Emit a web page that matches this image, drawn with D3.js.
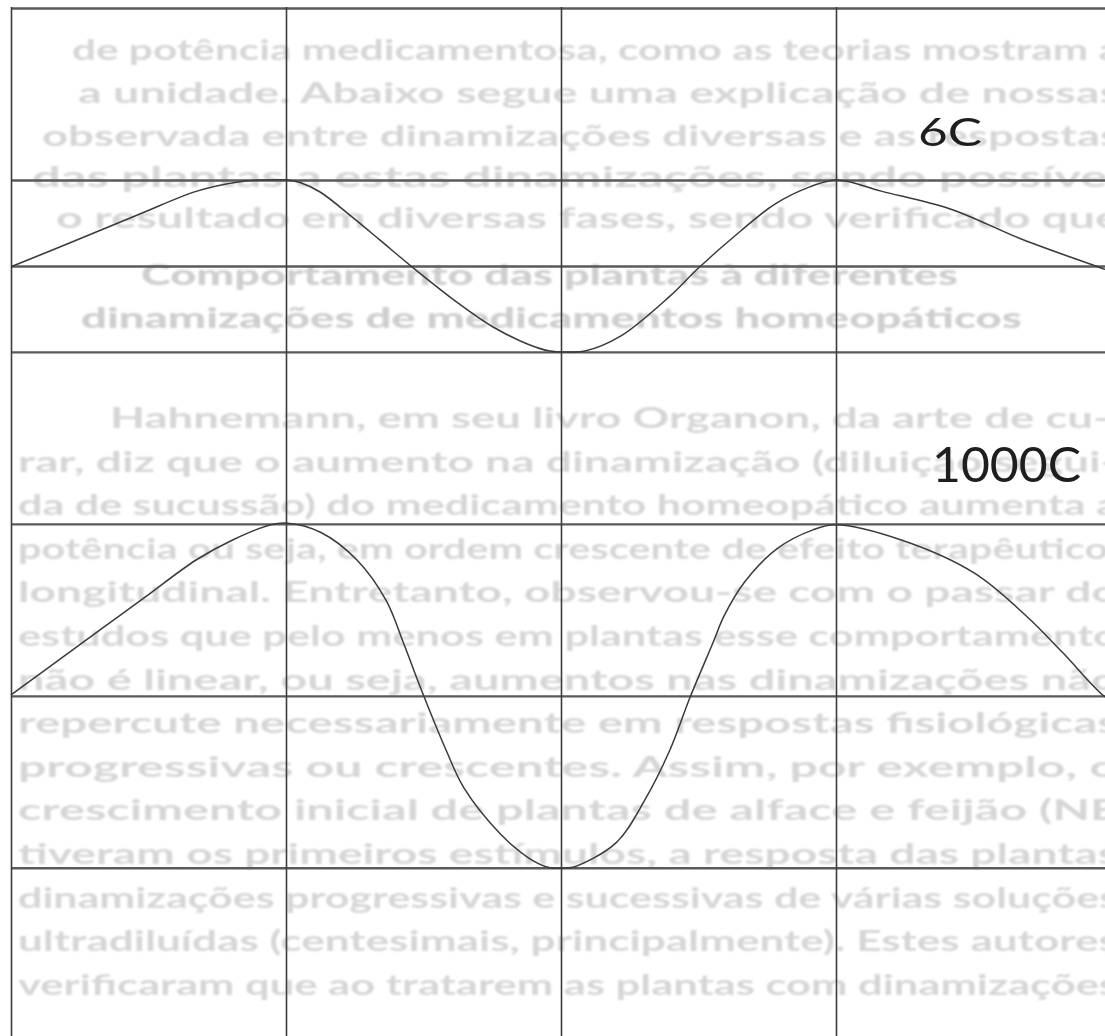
<!DOCTYPE html>
<html>
<head>
<meta charset="utf-8">
<script src="https://cdn.jsdelivr.net/npm/d3@7"></script>
<style>
  html, body { margin: 0; padding: 0; background: #ffffff; overflow: hidden; }
  svg { display: block; }
</style>
</head>
<body>
<svg id="chart" width="1105" height="1036"></svg>
<script>
// ---------------- DATA ----------------
// grid (column units and row units)
const columns = [0, 1, 2, 3, 4];
const rows = [-2, 0, 2, 4, 6, 7, 8, 10];

// series names
const series = ["6C", "1000C"];

// 6C curve (baseline at row 7, amplitude 1)
const x6C = [0, 0.215, 0.473, 0.676, 0.833, 0.924, 1.004, 1.051, 1.124, 1.240, 1.342, 1.458,
             1.625, 1.753, 1.880, 1.960, 2.022, 2.087, 2.215, 2.393, 2.498, 2.651, 2.778,
             2.905, 3.004, 3.164, 3.418, 3.676, 3.978, 4.02];
const y6C = [6.99, 7.27, 7.61, 7.87, 7.98, 8.00, 8.00, 7.97, 7.86, 7.57, 7.30, 6.99,
             6.57, 6.29, 6.09, 6.01, 6.00, 6.01, 6.18, 6.64, 6.97, 7.40, 7.72,
             7.92, 8.00, 7.87, 7.66, 7.31, 6.96, 6.91];

// 1000C curve (baseline at row 2, amplitude 2)
const x1000C = [0, 0.218, 0.480, 0.673, 0.804, 0.945, 1.000, 1.127, 1.258, 1.364, 1.429,
                1.491, 1.582, 1.647, 1.778, 1.884, 1.960, 2.015, 2.047, 2.200, 2.305,
                2.396, 2.469, 2.553, 2.593, 2.669, 2.785, 2.916, 3.000, 3.240, 3.502,
                3.695, 3.825, 3.978, 4.02];
const y1000C = [2.01, 2.52, 3.13, 3.58, 3.81, 3.99, 4.01, 3.90, 3.58, 3.11, 2.60,
                2.08, 1.37, 0.93, 0.40, 0.11, 0.00, 0.00, 0.01, 0.29, 0.79,
                1.37, 1.98, 2.62, 2.93, 3.33, 3.71, 3.93, 3.99, 3.81, 3.43,
                2.92, 2.50, 1.99, 1.93];

// faint text of the printed page behind the figure
const pageTextTop = [
  "de potência medicamentosa, como as teorias mostram a",
  "a unidade. Abaixo segue uma explicação de nossas",
  "observada entre dinamizações diversas e as respostas",
  "das plantas a estas dinamizações, sendo possível",
  "o resultado em diversas fases, sendo verificado que"
];
const pageHeading = [
  "Comportamento das plantas à diferentes",
  "dinamizações de medicamentos homeopáticos"
];
const pageTextBody = [
  "Hahnemann, em seu livro Organon, da arte de cu-",
  "rar, diz que o aumento na dinamização (diluição segui-",
  "da de sucussão) do medicamento homeopático aumenta a",
  "potência ou seja, em ordem crescente de efeito terapêutico,",
  "longitudinal. Entretanto, observou-se com o passar do",
  "estudos que pelo menos em plantas esse comportamento",
  "não é linear, ou seja, aumentos nas dinamizações não",
  "repercute necessariamente em respostas fisiológicas",
  "progressivas ou crescentes. Assim, por exemplo, o",
  "crescimento inicial de plantas de alface e feijão (NE",
  "tiveram os primeiros estímulos, a resposta das plantas",
  "dinamizações progressivas e sucessivas de várias soluções",
  "ultradiluídas (centesimais, principalmente). Estes autores",
  "verificaram que ao tratarem as plantas com dinamizações"
];

// ---------------- LAYOUT ----------------
const W = 1105, H = 1036;
const svg = d3.select("#chart");

const x = d3.scaleLinear().domain([0, 4]).range([11, 1111]);
const y = d3.scaleLinear().domain([0, 10]).range([867.8, 8]);

// blur filters to mimic the scan
const defs = svg.append("defs");
defs.append("filter").attr("id", "soft")
  .append("feGaussianBlur").attr("stdDeviation", 1.0);
defs.append("filter").attr("id", "soft2")
  .append("feGaussianBlur").attr("stdDeviation", 0.35);

// background page text
const bg = svg.append("g").attr("filter", "url(#soft)")
  .attr("font-family", "Lato, 'Open Sans', sans-serif")
  .attr("fill", "#d6d6d6");

const topStarts = [72, 78, 42, 32, 56];
const topBase = [60, 103, 146, 187, 228];
bg.selectAll("text.top").data(pageTextTop).join("text")
  .attr("class", "top")
  .attr("x", (d, i) => topStarts[i])
  .attr("y", (d, i) => topBase[i])
  .attr("font-size", 29)
  .attr("font-weight", 700)
  .attr("textLength", (d, i) => 1120 - topStarts[i])
  .attr("lengthAdjust", "spacingAndGlyphs")
  .text(d => d);

const headStarts = [141, 81];
const headEnds = [958, 1022];
bg.selectAll("text.head").data(pageHeading).join("text")
  .attr("class", "head")
  .attr("x", (d, i) => headStarts[i])
  .attr("y", (d, i) => 285 + i * 43)
  .attr("font-size", 29)
  .attr("font-weight", 900)
  .attr("fill", "#cfcfcf")
  .attr("textLength", (d, i) => headEnds[i] - headStarts[i])
  .attr("lengthAdjust", "spacingAndGlyphs")
  .text(d => d);

bg.selectAll("text.body").data(pageTextBody).join("text")
  .attr("class", "body")
  .attr("x", (d, i) => i === 0 ? 110 : 18)
  .attr("y", (d, i) => 428 + i * 43.6)
  .attr("font-size", 29)
  .attr("font-weight", 700)
  .attr("textLength", (d, i) => i === 0 ? 1000 : 1100)
  .attr("lengthAdjust", "spacingAndGlyphs")
  .text(d => d);

// grid via axes
const grid = svg.append("g").attr("filter", "url(#soft2)");

const hAxis = d3.axisLeft(y).tickValues(rows).tickSize(-(W + 20)).tickFormat("");
grid.append("g")
  .call(hAxis)
  .call(g => g.select(".domain").remove())
  .call(g => g.selectAll(".tick line")
    .attr("x1", 11).attr("x2", W + 5)
    .attr("stroke", "#5a5a5a").attr("stroke-width", 2.4));

const vAxis = d3.axisTop(x).tickValues(columns).tickSize(-(H + 10)).tickFormat("");
grid.append("g")
  .call(vAxis)
  .call(g => g.select(".domain").remove())
  .call(g => g.selectAll(".tick line")
    .attr("y1", 7).attr("y2", H + 5)
    .attr("stroke", "#3e3e3e").attr("stroke-width", 1.6));

// curves
const line = d3.line()
  .x(d => x(d[0]))
  .y(d => y(d[1]))
  .curve(d3.curveCatmullRom.alpha(0.5));

const curves = [
  d3.zip(x6C, y6C),
  d3.zip(x1000C, y1000C)
];

svg.append("g").attr("filter", "url(#soft2)")
  .selectAll("path.curve").data(curves).join("path")
  .attr("class", "curve")
  .attr("d", line)
  .attr("fill", "none")
  .attr("stroke", "#3a3a3a")
  .attr("stroke-width", 1.5);

// labels
const labelPos = [
  { x: 3.298, y: 8.39, size: 38, len: 64 },
  { x: 3.349, y: 4.49, size: 48, len: 149 }
];
svg.append("g")
  .selectAll("text.label").data(series).join("text")
  .attr("class", "label")
  .attr("x", (d, i) => x(labelPos[i].x))
  .attr("y", (d, i) => y(labelPos[i].y))
  .attr("font-family", "Lato, 'DejaVu Sans', sans-serif")
  .attr("font-size", (d, i) => labelPos[i].size)
  .attr("fill", "#1e1e1e")
  .attr("textLength", (d, i) => labelPos[i].len)
  .attr("lengthAdjust", "spacingAndGlyphs")
  .text(d => d);
</script>
</body>
</html>
